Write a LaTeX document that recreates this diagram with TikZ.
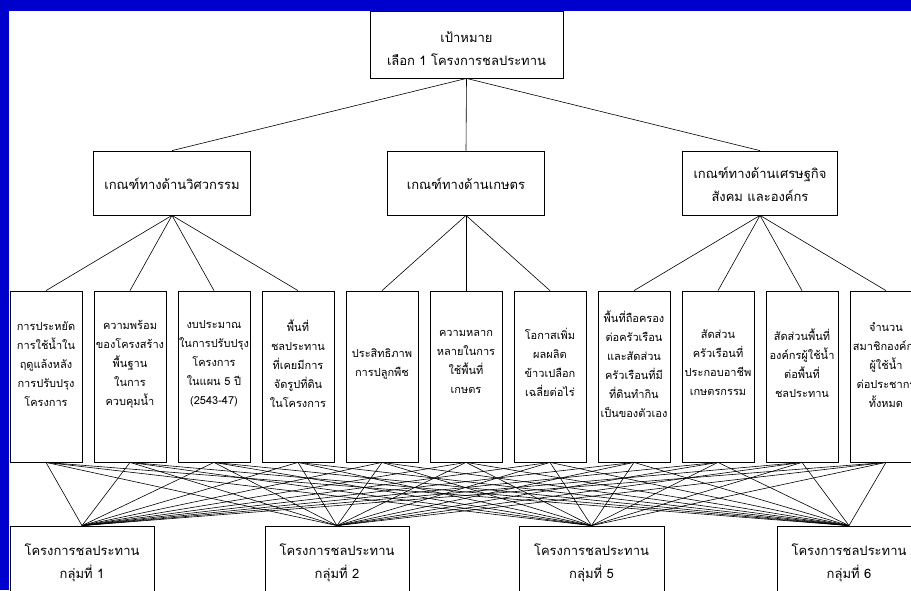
\documentclass[tikz,border=0pt]{standalone}
\usepackage{fontspec}
\newfontfamily\thaifont[Script=Thai]{Loma}
\definecolor{bgblue}{RGB}{0,0,204}
\begin{document}
\begin{tikzpicture}[x=1pt,y=-1pt,
  box/.style={draw=black, line width=0.8pt, fill=white, inner sep=0pt},
  big/.style={font=\thaifont\fontsize{13}{23}\selectfont, align=center, inner sep=0pt},
  small/.style={font=\thaifont\fontsize{11}{19}\selectfont, align=center, inner sep=0pt},
  conn/.style={draw=black, line width=0.6pt}]
\useasboundingbox (0,0) rectangle (911,590);
\clip (0,0) rectangle (911,590);
\fill[bgblue] (0,0) rectangle (911,590);
\fill[white] (9,11) rectangle (911,590);

% goal
\node[box, minimum width=193pt, minimum height=67pt] (goal) at (466.5,44.5) {};
\node[big] (goalt) at (466.5,48.5) {เป้าหมาย\\เลือก 1 โครงการชลประทาน};

% criteria
\node[box, minimum width=157pt, minimum height=64pt] (c1) at (172,183) {};
\node[box, minimum width=157pt, minimum height=64pt] (c2) at (466,183) {};
\node[box, minimum width=155pt, minimum height=64pt] (c3) at (760,183) {};
\node[big] (c1t) at (172,184) {เกณฑ์ทางด้านวิศวกรรม};
\node[big] (c2t) at (466,184) {เกณฑ์ทางด้านเกษตร};
\node[big] (c3t) at (760,184) {เกณฑ์ทางด้านเศรษฐกิจ\\สังคม และองค์กร};

% leaves
\foreach \i in {1,...,11}{
  \pgfmathsetmacro{\cx}{46+84*(\i-1)}
  \node[box, minimum width=72pt, minimum height=171pt] (l\i) at (\cx,376.5) {};
}
\node[small] (t1) at (l1|-0,364) {การประหยัด\\การใช้น้ำใน\\ฤดูแล้งหลัง\\การปรับปรุง\\โครงการ};
\node[small] (t2) at (l2|-0,364) {ความพร้อม\\ของโครงสร้าง\\พื้นฐาน\\ในการ\\ควบคุมน้ำ};
\node[small] (t3) at (l3|-0,364) {งบประมาณ\\ในการปรับปรุง\\โครงการ\\ในแผน 5 ปี\\(2543-47)};
\node[small] (t4) at (l4|-0,364) {พื้นที่\\ชลประทาน\\ที่เคยมีการ\\จัดรูปที่ดิน\\ในโครงการ};
\node[small] (t5) at (l5|-0,364) {ประสิทธิภาพ\\การปลูกพืช};
\node[small] (t6) at (l6|-0,362) {ความหลาก\\หลายในการ\\ใช้พื้นที่\\เกษตร};
\node[small] (t7) at (l7|-0,362) {โอกาสเพิ่ม\\ผลผลิต\\ข้าวเปลือก\\เฉลี่ยต่อไร่};
\node[small] (t8) at (l8|-0,364) {พื้นที่ถือครอง\\ต่อครัวเรือน\\และสัดส่วน\\ครัวเรือนที่มี\\ที่ดินทำกิน\\เป็นของตัวเอง};
\node[small] (t9) at (l9|-0,363) {สัดส่วน\\ครัวเรือนที่\\ประกอบอาชีพ\\เกษตรกรรม};
\node[small] (t10) at (l10|-0,363) {สัดส่วนพื้นที่\\องค์กรผู้ใช้น้ำ\\ต่อพื้นที่\\ชลประทาน};
\node[small] (t11) at (l11|-0,365) {จำนวน\\สมาชิกองค์กร\\ผู้ใช้น้ำ\\ต่อประชากร\\ทั้งหมด};

% projects
\node[box, minimum width=144pt, minimum height=84pt] (p1) at (82,568) {};
\node[box, minimum width=144pt, minimum height=84pt] (p2) at (337,568) {};
\node[box, minimum width=145pt, minimum height=84pt] (p3) at (591.5,568) {};
\node[box, minimum width=144pt, minimum height=84pt] (p4) at (849,568) {};
\node[big] (p1t) at (82,562.5) {โครงการชลประทาน\\กลุ่มที่ 1};
\node[big] (p2t) at (337,562.5) {โครงการชลประทาน\\กลุ่มที่ 2};
\node[big] (p3t) at (591.5,562.5) {โครงการชลประทาน\\กลุ่มที่ 5};
\node[big] (p4t) at (849,562.5) {โครงการชลประทาน\\กลุ่มที่ 6};

% connectors
\foreach \c in {c1,c2,c3} \draw[conn] (goal.south) -- (\c.north);
\foreach \l in {1,...,4} \draw[conn] (c1.south) -- (l\l.north);
\foreach \l in {5,...,7} \draw[conn] (c2.south) -- (l\l.north);
\foreach \l in {8,...,11} \draw[conn] (c3.south) -- (l\l.north);
\foreach \l in {1,...,11}{
  \foreach \p in {p1,p2,p3,p4}{
    \draw[conn] (l\l.south) -- (\p.north);
  }
}
\end{tikzpicture}
\end{document}
